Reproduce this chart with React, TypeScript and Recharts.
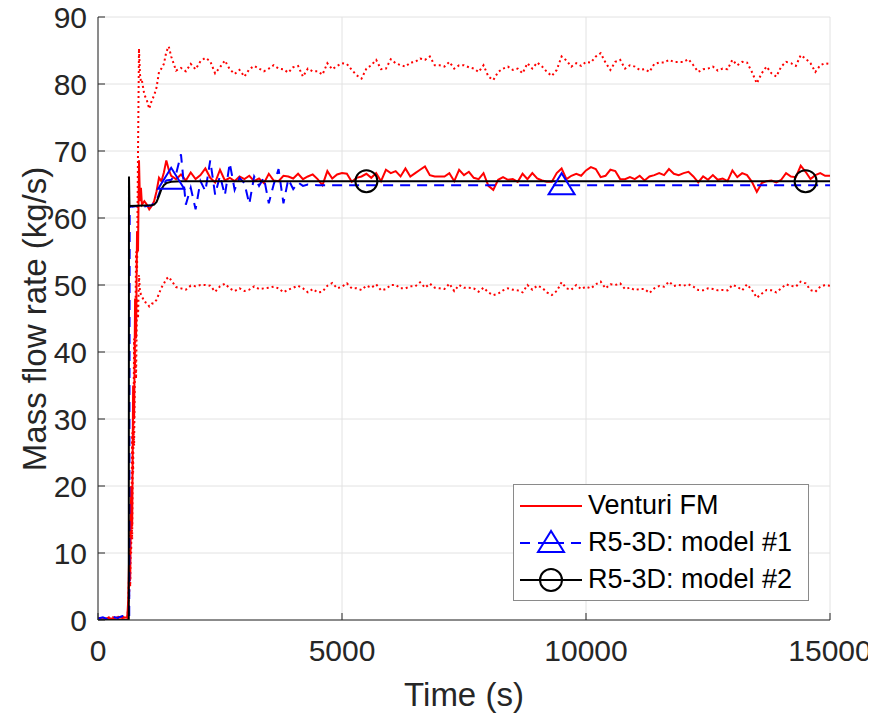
import React from 'react';
import { LineChart, Line, XAxis, YAxis, CartesianGrid } from 'recharts';

// ---- Data ----
const redTimes = [
  0, 100, 200, 300, 400, 500, 600, 620, 640, 660,
  680, 700, 720, 740, 760, 780, 800, 820, 840, 860,
  880, 900, 950, 1000, 1050, 1100, 1150, 1200, 1250, 1300,
  1350, 1400, 1450, 1500,
  1600, 1700, 1800, 1900, 2000, 2100, 2200, 2300, 2400, 2500,
  2600, 2700, 2800, 2900, 3000, 3100, 3200, 3300, 3400, 3500,
  3600, 3700, 3800, 3900, 4000, 4100, 4200, 4300, 4400, 4500,
  4600, 4700, 4800, 4900, 5000, 5100, 5200, 5300, 5400, 5500,
  5600, 5700, 5800, 5900, 6000, 6100, 6200, 6300, 6400, 6500,
  6600, 6700, 6800, 6900, 7000, 7100, 7200, 7300, 7400, 7500,
  7600, 7700, 7800, 7900, 8000, 8100, 8200, 8300, 8400, 8500,
  8600, 8700, 8800, 8900, 9000, 9100, 9200, 9300, 9400, 9500,
  9600, 9700, 9800, 9900, 10000, 10100, 10200, 10300, 10400, 10500,
  10600, 10700, 10800, 10900, 11000, 11100, 11200, 11300, 11400, 11500,
  11600, 11700, 11800, 11900, 12000, 12100, 12200, 12300, 12400, 12500,
  12600, 12700, 12800, 12900, 13000, 13100, 13200, 13300, 13400, 13500,
  13600, 13700, 13800, 13900, 14000, 14100, 14200, 14300, 14400, 14500,
  14600, 14700, 14800, 14900, 15000,
];

const venturi = [
  0.2, 0.1, 0.3, 0.2, 0.4, 0.3, 0.4, 3, 10, 6,
  20, 14, 35, 30, 48, 42, 58, 55, 68.6, 62.5,
  64.5, 62.0, 62.5, 62.0, 61.3, 61.8, 62.5, 64.0, 66.0, 65.5,
  66.8, 68.6, 67.2, 66.3,
  65.8, 66.5, 65.6, 66.8, 65.8, 66.4, 67.4, 66.0, 65.3, 67.2,
  65.6, 66.0, 65.5, 66.2, 65.8, 66.3, 65.5, 65.9, 65.2, 66.6,
  65.6, 65.5, 66.3, 66.2, 65.9, 66.6, 65.8, 66.2, 66.5, 65.8,
  64.9, 67.0, 65.9, 66.5, 66.7, 66.6, 65.4, 66.0, 66.2, 66.6,
  66.0, 66.7, 65.5, 67.2, 66.7, 67.0, 66.2, 67.4, 66.2, 66.7,
  67.2, 67.7, 66.4, 66.2, 66.2, 66.2, 66.7, 65.5, 67.2, 66.4,
  66.9, 66.0, 65.8, 66.7, 64.8, 64.2, 65.7, 66.1, 65.7, 65.8,
  65.4, 66.6, 65.8, 66.7, 65.9, 65.6, 65.4, 65.4, 66.7, 67.4,
  65.8, 66.3, 66.6, 66.3, 67.1, 67.6, 67.3, 66.1, 66.3, 67.2,
  67.0, 65.8, 65.8, 66.1, 65.8, 66.3, 65.6, 66.2, 66.4, 66.7,
  66.4, 67.3, 66.6, 66.4, 66.7, 66.9, 66.2, 65.3, 66.2, 65.7,
  66.4, 65.7, 65.9, 65.5, 67.1, 66.1, 66.7, 66.4, 65.4, 63.9,
  65.2, 65.5, 65.6, 65.3, 65.7, 66.7, 66.2, 66.1, 67.8, 66.9,
  65.8, 66.4, 66.7, 66.3, 66.3,
];

const venturiUpper = [
  0.3, 0.2, 0.4, 0.3, 0.5, 0.4, 0.5, 1, 4, 15,
  10, 28, 22, 42, 38, 55, 52, 70, 85.3, 81.5,
  80.3, 80.5, 78.4, 77.6, 76.3, 77.5, 78.3, 79.5, 81.8, 82.3,
  83.0, 84.8, 85.6, 84.1,
  82.0, 82.4, 81.9, 83.0, 82.2, 83.4, 83.9, 83.4, 81.6, 82.5,
  83.5, 82.2, 81.5, 82.1, 81.1, 82.2, 82.7, 82.3, 81.9, 82.3,
  82.8, 82.3, 82.2, 81.7, 82.5, 82.7, 81.1, 82.3, 81.9, 81.9,
  81.4, 83.1, 82.2, 82.7, 83.1, 83.0, 82.1, 81.3, 80.8, 82.3,
  82.8, 83.6, 82.2, 82.3, 83.7, 83.1, 82.8, 82.6, 83.2, 83.3,
  83.8, 83.6, 84.1, 82.8, 82.8, 82.6, 83.3, 82.3, 82.8, 82.8,
  82.5, 82.3, 81.8, 82.8, 81.1, 80.6, 81.8, 82.3, 82.6, 82.1,
  82.3, 81.6, 83.1, 82.3, 83.2, 82.6, 81.8, 81.2, 82.1, 84.1,
  83.5, 82.6, 83.1, 82.7, 83.3, 83.2, 84.1, 84.6, 83.2, 82.1,
  83.3, 83.6, 82.3, 82.8, 82.6, 82.1, 82.2, 81.8, 83.0, 83.2,
  83.2, 83.6, 83.3, 83.3, 83.3, 83.7, 82.8, 81.8, 82.2, 82.3,
  82.6, 82.0, 82.3, 82.2, 83.6, 82.8, 83.3, 83.2, 81.8, 80.1,
  81.6, 82.6, 81.6, 81.1, 82.6, 83.3, 83.1, 82.7, 84.3, 83.8,
  83.1, 81.8, 82.8, 83.1, 83.0,
];

const venturiLower = [
  0.2, 0.3, 0.1, 0.4, 0.2, 0.5, 0.3, 2, 8, 5,
  18, 12, 30, 26, 40, 36, 48, 45, 51.5, 49,
  48.6, 48.3, 47.5, 47.3, 46.8, 47.2, 47.3, 47.8, 48.7, 49.6,
  50.2, 50.9, 51.2, 50.7,
  49.7, 49.5, 49.3, 49.9, 49.8, 50.0, 50.0, 49.9, 49.0, 49.8,
  50.2, 49.5, 49.1, 49.5, 49.1, 49.3, 49.8, 49.4, 49.5, 49.6,
  49.75, 49.5, 48.9, 49.3, 49.6, 49.9, 49.5, 48.9, 49.4, 48.9,
  49.0, 49.9, 50.3, 49.5, 49.75, 50.25, 49.5, 49.5, 49.25, 49.9,
  49.6, 50.1, 49.2, 49.4, 50.0, 50.0, 49.5, 49.5, 49.8, 49.8,
  50.4, 49.6, 50.2, 49.6, 49.5, 49.4, 50.2, 49.1, 50.0, 49.6,
  49.6, 49.5, 49.0, 49.6, 48.9, 48.5, 48.7, 49.2, 49.5, 49.3,
  49.2, 48.9, 50.0, 49.3, 49.9, 49.6, 48.9, 48.5, 49.1, 50.4,
  49.5, 49.3, 50.0, 49.4, 49.75, 49.5, 50.1, 50.5, 49.5, 50.1,
  50.0, 50.25, 49.4, 49.6, 49.25, 49.4, 49.4, 48.8, 49.5, 49.85,
  49.75, 50.5, 49.85, 50.0, 49.9, 50.1, 49.75, 49.25, 49.2, 49.5,
  49.4, 49.2, 49.25, 49.2, 50.0, 49.75, 49.2, 50.1, 49.25, 48.1,
  48.7, 49.25, 49.2, 48.9, 49.5, 50.1, 49.85, 49.75, 50.5, 50.25,
  49.25, 49.0, 49.75, 50.0, 49.9,
];

const model1Times = [
  0, 100, 200, 300, 400, 500, 600, 640, 650, 700,
  800, 900, 1000, 1100, 1200, 1300, 1400, 1500, 1600, 1700,
  1800, 1900, 2000, 2100, 2200, 2300, 2400, 2500, 2600, 2700,
  2800, 2900, 3000, 3100, 3200, 3300, 3400, 3500, 3600, 3700,
  3800, 3900, 4000, 4100, 4200, 4300, 4500, 5000, 6000, 7000,
  8000, 9000, 9500, 10000, 11000, 12000, 13000, 14000, 15000,
];
const model1 = [
  0.2, 0.4, 0.1, 0.5, 0.3, 0.6, 0.4, 0.5, 61.8, 61.7,
  61.8, 61.6, 61.8, 61.9, 62.6, 64.6, 65.6, 65.7, 66.6, 69.5,
  62.0, 64.5, 61.3, 65.5, 64.0, 68.6, 63.5, 66.3, 63.4, 68.2,
  64.2, 66.0, 65.2, 62.1, 66.2, 64.8, 66.0, 62.2, 65.0, 67.3,
  62.2, 65.8, 64.3, 65.3, 64.8, 65.0, 64.9, 64.9, 64.9, 64.9,
  64.9, 64.9, 64.9, 64.9, 64.9, 64.9, 64.9, 64.9, 64.9,
];

const model2Times = [
  0, 300, 630, 635, 645, 1100, 1150, 1200, 1250, 1300,
  1350, 1400, 1500, 1700, 3000, 5500, 8000, 11000, 14500, 15000,
];
const model2 = [
  0, 0, 0, 66.2, 61.8, 61.9, 62.0, 62.4, 63.3, 64.3,
  64.9, 65.2, 65.4, 65.5, 65.5, 65.5, 65.5, 65.5, 65.5, 65.5,
];

const model1MarkerTimes = [1500, 9500];
const model2MarkerTimes = [5500, 14500];

const xTicks = [0, 5000, 10000, 15000];
const yTicks = [0, 10, 20, 30, 40, 50, 60, 70, 80, 90];
const seriesNames = ['Venturi FM', 'R5-3D: model #1', 'R5-3D: model #2'];
const xTitle = 'Time (s)';
const yTitle = 'Mass flow rate (kg/s)';

// ---- Helpers ----
const zip = (ts: number[], vs: number[]) => ts.map((t, i) => ({ t, v: vs[i] }));
const venturiData = zip(redTimes, venturi);
const upperData = zip(redTimes, venturiUpper);
const lowerData = zip(redTimes, venturiLower);
const model1Data = zip(model1Times, model1);
const model2Data = zip(model2Times, model2);

const FONT = '"Liberation Sans", Arial, Helvetica, sans-serif';
const AX = '#262626';
const RED = '#ff0000';
const BLUE = '#0000ff';
const BLACK = '#000000';

const triPoints = (cx: number, cy: number) =>
  `${cx},${cy - 12} ${cx - 13},${cy + 9} ${cx + 13},${cy + 9}`;

const TriangleDot = (props: any) => {
  const { cx, cy, payload, index } = props;
  if (!payload || !model1MarkerTimes.includes(payload.t)) return <g key={`t-${index}`} />;
  return (
    <polygon key={`t-${index}`} points={triPoints(cx, cy)} fill="none" stroke={BLUE} strokeWidth={2} />
  );
};

const CircleDot = (props: any) => {
  const { cx, cy, payload, index } = props;
  if (!payload || !model2MarkerTimes.includes(payload.t)) return <g key={`c-${index}`} />;
  return <circle key={`c-${index}`} cx={cx} cy={cy} r={11} fill="none" stroke={BLACK} strokeWidth={2} />;
};

const tickStyle = { fontSize: 30, fill: AX, fontFamily: FONT };

const LegendRow = ({ kind, label }: { kind: number; label: string }) => (
  <div style={{ display: 'flex', alignItems: 'center', height: 37 }}>
    <svg width={70} height={30} style={{ flex: 'none' }}>
      {kind === 0 && <line x1={6} y1={15} x2={68} y2={15} stroke={RED} strokeWidth={2} />}
      {kind === 1 && (
        <g>
          <line x1={6} y1={15} x2={68} y2={15} stroke={BLUE} strokeWidth={2} strokeDasharray="10 7" />
          <rect x={22} y={3} width={26} height={24} fill="white" />
          <polygon points={triPoints(37, 15)} fill="none" stroke={BLUE} strokeWidth={2} />
          <line x1={24} y1={15} x2={50} y2={15} stroke={BLUE} strokeWidth={2} />
        </g>
      )}
      {kind === 2 && (
        <g>
          <line x1={6} y1={15} x2={68} y2={15} stroke={BLACK} strokeWidth={2} />
          <circle cx={37} cy={15} r={11} fill="none" stroke={BLACK} strokeWidth={2} />
        </g>
      )}
    </svg>
    <span style={{ fontSize: 27, fontFamily: FONT, color: '#000', whiteSpace: 'nowrap', marginLeft: 4 }}>{label}</span>
  </div>
);

export default function App() {
  return (
    <div style={{ position: 'relative', width: 876, height: 719, marginLeft: -8, marginTop: -8, background: '#fff' }}>
      <LineChart width={876} height={719} margin={{ top: 17, right: 46, bottom: 59, left: 38 }}>
        <CartesianGrid stroke="#e2e2e2" strokeWidth={1} />
        <XAxis
          dataKey="t"
          type="number"
          domain={[0, 15000]}
          ticks={xTicks}
          interval={0}
          allowDataOverflow
          height={40}
          tickSize={-7}
          tickMargin={27}
          tick={tickStyle}
          tickLine={{ stroke: AX }}
          axisLine={{ stroke: AX }}
        />
        <XAxis
          xAxisId="top"
          orientation="top"
          type="number"
          domain={[0, 15000]}
          ticks={xTicks}
          interval={0}
          allowDataOverflow
          height={0}
          tickSize={-7}
          tick={false}
          tickLine={{ stroke: AX }}
          axisLine={{ stroke: AX }}
        />
        <YAxis
          type="number"
          domain={[0, 90]}
          ticks={yTicks}
          interval={0}
          allowDataOverflow
          width={60}
          tickSize={-7}
          tickMargin={18}
          tick={tickStyle}
          tickLine={{ stroke: AX }}
          axisLine={{ stroke: AX }}
        />
        <YAxis
          yAxisId="right"
          orientation="right"
          type="number"
          domain={[0, 90]}
          ticks={yTicks}
          interval={0}
          allowDataOverflow
          width={0}
          tickSize={-7}
          tick={false}
          tickLine={{ stroke: AX }}
          axisLine={{ stroke: AX }}
        />
        <Line data={upperData} dataKey="v" type="linear" stroke={RED} strokeWidth={2} strokeDasharray="2 3" dot={false} isAnimationActive={false} />
        <Line data={lowerData} dataKey="v" type="linear" stroke={RED} strokeWidth={2} strokeDasharray="2 3" dot={false} isAnimationActive={false} />
        <Line data={venturiData} dataKey="v" name={seriesNames[0]} type="linear" stroke={RED} strokeWidth={2} dot={false} isAnimationActive={false} />
        <Line data={model1Data} dataKey="v" name={seriesNames[1]} type="linear" stroke={BLUE} strokeWidth={2} strokeDasharray="10 7" dot={TriangleDot} isAnimationActive={false} />
        <Line data={model2Data} dataKey="v" name={seriesNames[2]} type="linear" stroke={BLACK} strokeWidth={2} dot={CircleDot} isAnimationActive={false} />
      </LineChart>

      <div
        style={{
          position: 'absolute', left: 464, top: 695, transform: 'translate(-50%, -50%)',
          fontSize: 33, fontFamily: FONT, color: AX, whiteSpace: 'nowrap',
        }}
      >
        {xTitle}
      </div>
      <div
        style={{
          position: 'absolute', left: 35, top: 319, transform: 'translate(-50%, -50%) rotate(-90deg)',
          fontSize: 33, fontFamily: FONT, color: AX, whiteSpace: 'nowrap',
        }}
      >
        {yTitle}
      </div>

      <div
        style={{
          position: 'absolute', left: 513, top: 484, width: 294, height: 113,
          border: '1px solid #8a8a8a', background: '#fff', paddingTop: 2, boxSizing: 'content-box',
        }}
      >
        {seriesNames.map((n, i) => (
          <LegendRow key={n} kind={i} label={n} />
        ))}
      </div>
    </div>
  );
}
